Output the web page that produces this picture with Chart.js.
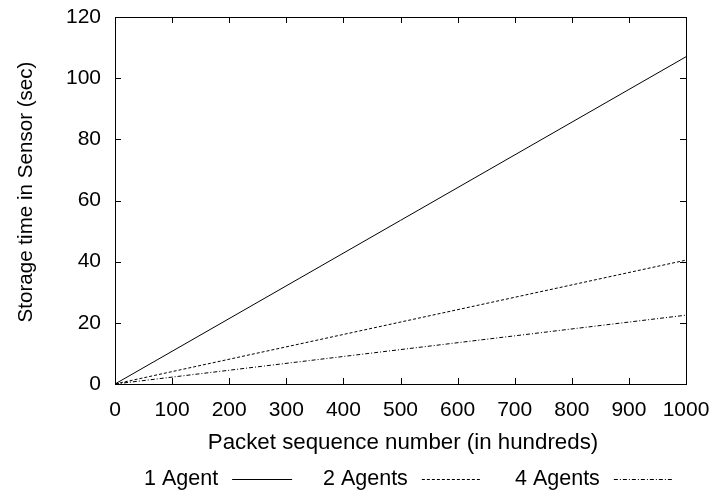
<!DOCTYPE html>
<html>
<head>
<meta charset="utf-8">
<script src="https://cdn.jsdelivr.net/npm/chart.js@4/dist/chart.umd.min.js"></script>
<style>
  html, body { margin: 0; padding: 0; background: #fff; }
  #wrap { width: 716px; height: 493px; position: relative; }
</style>
</head>
<body>
<div id="wrap"><canvas id="myChart"></canvas></div>
<script>
// values
const packetSeq = [0, 1000];
const oneAgent = [0, 107];
const twoAgents = [0, 40.5];
const fourAgents = [0, 22.5];
const seriesNames = ['1 Agent', '2 Agents', '4 Agents'];
const xTicks = [0, 100, 200, 300, 400, 500, 600, 700, 800, 900, 1000];
const yTicks = [0, 20, 40, 60, 80, 100, 120];
const xTitle = 'Packet sequence number (in hundreds)';
const yTitle = 'Storage time in Sensor (sec)';

const FONT = 'Liberation Sans, Arial, Helvetica, sans-serif';
Chart.defaults.font.family = FONT;
Chart.defaults.font.size = 21;
Chart.defaults.color = '#000';

function pts(ys) {
  return packetSeq.map((x, i) => ({ x: x, y: ys[i] }));
}

// box, inward ticks on all four sides, axis titles, and the legend with samples after the text
const frame = {
  id: 'frame',
  afterDraw(chart) {
    const ctx = chart.ctx;
    const a = chart.chartArea;
    const xs = chart.scales.x, ys = chart.scales.y;
    ctx.save();
    ctx.strokeStyle = '#000';
    ctx.lineWidth = 1;
    ctx.strokeRect(a.left + 0.5, a.top + 0.5, a.right - a.left, a.bottom - a.top);
    ctx.beginPath();
    xTicks.forEach(v => {
      const px = Math.round(xs.getPixelForValue(v)) + 0.5;
      ctx.moveTo(px, a.bottom); ctx.lineTo(px, a.bottom - 6);
      ctx.moveTo(px, a.top); ctx.lineTo(px, a.top + 6);
    });
    yTicks.forEach(v => {
      const py = Math.round(ys.getPixelForValue(v)) + 0.5;
      ctx.moveTo(a.left, py); ctx.lineTo(a.left + 6, py);
      ctx.moveTo(a.right, py); ctx.lineTo(a.right - 6, py);
    });
    ctx.stroke();

    ctx.fillStyle = '#000';
    ctx.textBaseline = 'alphabetic';
    // axis titles
    ctx.font = '22.3px ' + FONT;
    ctx.textAlign = 'center';
    ctx.fillText(xTitle, 403, 449);
    ctx.save();
    ctx.font = '20.6px ' + FONT;
    ctx.translate(32, 192);
    ctx.rotate(-Math.PI / 2);
    ctx.fillText(yTitle, 0, 0);
    ctx.restore();

    // legend
    const legX = [144, 323, 515];
    const legY = 479;
    ctx.font = '21.5px ' + FONT;
    ctx.textAlign = 'left';
    ctx.textBaseline = 'middle';
    chart.data.datasets.forEach((ds, i) => {
      ctx.fillText(ds.label, legX[i], legY);
      const w = ctx.measureText(ds.label).width;
      ctx.beginPath();
      ctx.setLineDash(ds.borderDash || []);
      ctx.moveTo(legX[i] + w + 14, legY + 0.5);
      ctx.lineTo(legX[i] + w + 74, legY + 0.5);
      ctx.stroke();
    });
    ctx.restore();
  }
};

const config = {
  type: 'line',
  data: {
    datasets: [
      { label: seriesNames[0], data: pts(oneAgent), borderColor: '#000', borderWidth: 1, pointRadius: 0 },
      { label: seriesNames[1], data: pts(twoAgents), borderColor: '#000', borderWidth: 1, pointRadius: 0, borderDash: [3, 2] },
      { label: seriesNames[2], data: pts(fourAgents), borderColor: '#000', borderWidth: 1, pointRadius: 0, borderDash: [4, 2, 1, 2] }
    ]
  },
  options: {
    responsive: true,
    maintainAspectRatio: false,
    animation: false,
    layout: { padding: { left: 0, right: 30, top: 17, bottom: 45 } },
    plugins: { legend: { display: false }, tooltip: { enabled: false } },
    scales: {
      x: {
        type: 'linear', min: 0, max: 1000,
        afterBuildTicks: s => { s.ticks = xTicks.map(v => ({ value: v })); },
        afterFit: s => { s.height = 64; s.paddingLeft = 0; s.paddingRight = 0; },
        grid: { display: false, drawTicks: false },
        border: { display: false },
        ticks: { padding: 14, maxRotation: 0, callback: v => String(v) },
        title: { display: false }
      },
      y: {
        type: 'linear', min: 0, max: 120,
        afterBuildTicks: s => { s.ticks = yTicks.map(v => ({ value: v })); },
        afterFit: s => { s.width = 115; s.paddingTop = 0; s.paddingBottom = 0; },
        grid: { display: false, drawTicks: false },
        border: { display: false },
        ticks: { padding: 14, callback: v => String(v) },
        title: { display: false }
      }
    }
  },
  plugins: [frame]
};

const myChart = new Chart(document.getElementById('myChart').getContext('2d'), config);
</script>
</body>
</html>
